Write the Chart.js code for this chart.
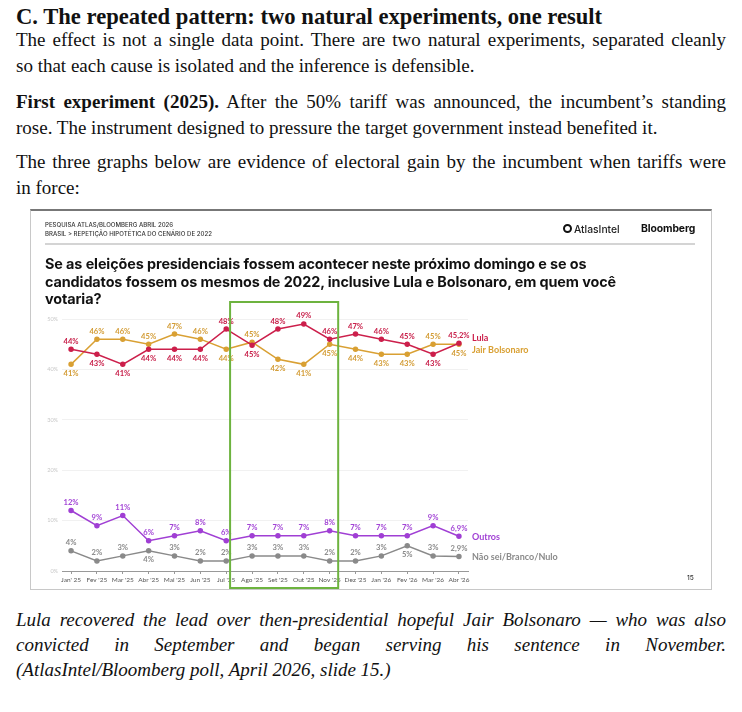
<!DOCTYPE html>
<html><head><meta charset="utf-8">
<script src="https://cdn.jsdelivr.net/npm/chart.js@4.4.1/dist/chart.umd.min.js"></script>
<style>
html,body{margin:0;padding:0;background:#fff;}
body{width:742px;height:712px;position:relative;overflow:hidden;font-family:"Liberation Serif","Times New Roman",serif;color:#111;}
h2{position:absolute;left:16px;top:4px;margin:0;font-size:22.6px;line-height:26px;font-weight:700;white-space:nowrap;}
.t{position:absolute;left:16px;width:710px;font-size:19px;line-height:26px;margin:0;}
.t div{text-align:justify;text-align-last:justify;}
.t div.l{text-align:left;text-align-last:left;}
.cap{font-style:italic;line-height:25px;}
#frame{position:absolute;left:30px;top:209px;width:680px;height:378px;border:1px solid #c8c8c8;border-top:2px solid #777;}
#frame canvas{position:absolute;left:0;top:0;}
.ov{position:absolute;font-family:Inter,"Noto Sans",sans-serif;white-space:nowrap;}
.hd{left:14px;font-size:6.1px;line-height:8px;font-weight:500;color:#333;}
#rule{position:absolute;left:14px;top:32px;width:650px;height:2px;background:#d4d4d4;}
#icon{position:absolute;left:532px;top:13px;width:5px;height:5px;border:2.7px solid #111;border-radius:50%;}
#atlas{left:543px;top:12px;font-size:10.3px;line-height:12px;font-weight:500;color:#222;}
#bloom{left:610px;top:11px;font-size:10.4px;line-height:13px;font-weight:700;color:#111;letter-spacing:-0.1px;}
#title{left:14px;top:44px;font-size:14.4px;line-height:17.5px;font-weight:700;color:#111;letter-spacing:-0.1px;}
#pg{left:656px;top:362px;font-size:6.5px;line-height:10px;color:#333;font-weight:500;}
</style></head>
<body>
<h2>C. The repeated pattern: two natural experiments, one result</h2>
<div class="t" style="top:27px"><div>The effect is not a single data point. There are two natural experiments, separated cleanly</div><div class="l">so that each cause is isolated and the inference is defensible.</div></div>
<div class="t" style="top:89px;line-height:25.5px"><div><b>First experiment (2025).</b> After the 50% tariff was announced, the incumbent’s standing</div><div class="l">rose. The instrument designed to pressure the target government instead benefited it.</div></div>
<div class="t" style="top:149px;line-height:25.5px"><div>The three graphs below are evidence of electoral gain by the incumbent when tariffs were</div><div class="l">in force:</div></div>
<div id="frame">
  <canvas id="c" width="680" height="378"></canvas>
  <div class="ov hd" style="top:10px">PESQUISA ATLAS/BLOOMBERG ABRIL 2026</div>
  <div class="ov hd" style="top:19px">BRASIL &gt; REPETIÇÃO HIPOTÉTICA DO CENÁRIO DE 2022</div>
  <div id="rule"></div>
  <div id="icon"></div>
  <div class="ov" id="atlas">AtlasIntel</div>
  <div class="ov" id="bloom">Bloomberg</div>
  <div class="ov" id="title">Se as eleições presidenciais fossem acontecer neste próximo domingo e se os<br>candidatos fossem os mesmos de 2022, inclusive Lula e Bolsonaro, em quem você<br>votaria?</div>
  <div class="ov" id="pg">15</div>
</div>
<div class="t cap" style="top:607px"><div>Lula recovered the lead over then-presidential hopeful Jair Bolsonaro — who was also</div><div>convicted in September and began serving his sentence in November.</div><div class="l">(AtlasIntel/Bloomberg poll, April 2026, slide 15.)</div></div>
<script>
const months = ["Jan' 25","Fev '25","Mar '25","Abr '25","Mai '25","Jun '25","Jul '25","Ago '25","Set '25","Out '25","Nov '25","Dez '25","Jan '26","Fev '26","Mar '26","Abr '26"];
const lula      = [44, 43, 41, 44, 44, 44, 48, 44.8, 48, 49, 46, 47, 46, 45, 43, 45.2];
const bolsonaro = [41, 46, 46, 45, 47, 46, 44, 45.4, 42, 41, 45, 44, 43, 43, 45, 45];
const outros    = [12, 9, 11, 6, 7, 8, 6, 7, 7, 7, 8, 7, 7, 7, 9, 6.9];
const naoSei    = [4, 2, 3, 4, 3, 2, 2, 3, 3, 3, 2, 2, 3, 5, 3, 2.9];
const yTicks = [0, 10, 20, 30, 40, 50];
const highlightFrom = 6.15, highlightTo = 10.33;

const pts = arr => arr.map((v,i)=>({x:i,y:v}));
function mk(label, data, color, labelColor, endOffset){
  return {label, data:pts(data), borderColor:color, backgroundColor:color, pointBackgroundColor:color,
    pointBorderColor:color, borderWidth:1.5, pointRadius:2, tension:0, labelColor, endOffset};
}
const datasets = [
  mk('Lula', lula, '#cc1f4b', '#c8204a', -5),
  mk('Jair Bolsonaro', bolsonaro, '#d9a033', '#d39c35', 6),
  mk('Outros', outros, '#a03fd4', '#a345d6', 1),
  mk('Não sei/Branco/Nulo', naoSei, '#8a8a8a', '#8a8a8a', 1)
];

function placement(di, i){
  if (di === 0) return lula[i] >= bolsonaro[i] ? 'above' : 'below';
  if (di === 1) return bolsonaro[i] > lula[i] ? 'above' : 'below';
  if (di === 2) return 'above';
  if (i > 0 && i < naoSei.length-1 && naoSei[i] > naoSei[i-1] && naoSei[i] > naoSei[i+1]) return 'below';
  return 'above';
}
function fmt(v, i, n){
  if (i === n-1 && !Number.isInteger(v)) return v.toFixed(1).replace('.', ',') + '%';
  return Math.round(v) + '%';
}

const labelPlugin = {
  id:'labels',
  afterDatasetsDraw(chart){
    const ctx = chart.ctx;
    ctx.save();
    chart.data.datasets.forEach((ds, di)=>{
      const meta = chart.getDatasetMeta(di);
      const n = meta.data.length;
      ctx.fillStyle = ds.labelColor;
      ctx.textBaseline = 'middle';
      meta.data.forEach((pt, i)=>{
        const v = ds.data[i].y;
        ctx.font = 'bold 7.6px Lato';
        ctx.textAlign = 'center';
        const pos = placement(di, i);
        ctx.fillText(fmt(v, i, n), pt.x, pos === 'above' ? pt.y - 8 : pt.y + 9);
      });
      const last = meta.data[n-1];
      ctx.font = 'bold 9px Lato';
      ctx.textAlign = 'left';
      ctx.fillStyle = ds.borderColor;
      ctx.fillText(ds.label, chart.chartArea.right + 4, last.y + ds.endOffset);
    });
    ctx.restore();
  },
  afterDraw(chart){
    const ctx = chart.ctx, xs = chart.scales.x, ys = chart.scales.y;
    const x0 = xs.getPixelForValue(highlightFrom), x1 = xs.getPixelForValue(highlightTo);
    const top = ys.getPixelForValue(50) - 17, bottom = chart.height - 1;
    ctx.save();
    ctx.strokeStyle = '#6db33f';
    ctx.lineWidth = 2;
    ctx.strokeRect(x0, top, x1 - x0, bottom - top);
    ctx.restore();
  }
};

Chart.defaults.font.family = 'Lato';
new Chart(document.getElementById('c'), {
  type:'line',
  data:{datasets},
  options:{
    responsive:false, animation:false,
    layout:{padding:{left:12, right:243, top:108, bottom:4}},
    plugins:{legend:{display:false}, tooltip:{enabled:false}},
    scales:{
      x:{type:'linear', min:-0.35, max:months.length-1+0.35,
        afterBuildTicks: s => { s.ticks = months.map((_,i)=>({value:i})); },
        afterFit: s => { s.height = 14; },
        grid:{display:true, drawOnChartArea:false, drawTicks:true, tickLength:3, color:'#999'},
        border:{display:true, color:'#999', width:1},
        ticks:{autoSkip:false, maxRotation:0, padding:2, color:'#555', font:{size:6.5},
          callback: v => months[v]}
      },
      y:{min:0, max:50,
        afterBuildTicks: s => { s.ticks = yTicks.map(v=>({value:v})); },
        afterFit: s => { s.width = 19; },
        grid:{color:'#f1f1f1', drawTicks:false},
        border:{display:false},
        ticks:{padding:4, color:'#c8c8c8', font:{size:5.5}, callback: v => v + '%'}
      }
    }
  },
  plugins:[labelPlugin]
});
</script>
</body></html>
